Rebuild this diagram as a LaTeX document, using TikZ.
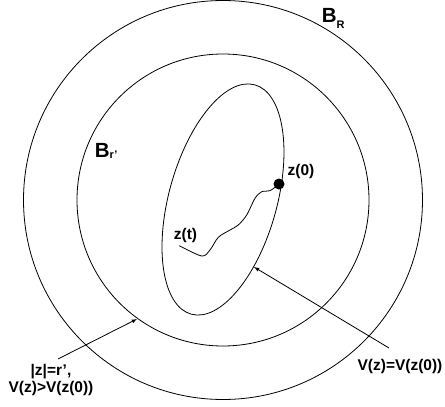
\documentclass[tikz,border=0pt]{standalone}
\usepackage{fontspec}
\setmainfont{Liberation Sans}
\usetikzlibrary{calc,positioning,arrows}

\begin{document}
\begin{tikzpicture}[x=1pt,y=-1pt,line width=0.8pt,
   every node/.style={inner sep=0pt},
   lbl/.style={font=\fontsize{15.5}{17}\selectfont\bfseries},
   ball/.style={font=\fontsize{20.5}{22}\selectfont\bfseries}]
     \useasboundingbox (0,0) rectangle (445,407);
     \coordinate (o) at (223,200);
     \coordinate (c) at (223,199.5);
     \draw (o) circle (199.5pt);
     \draw (o) circle (146pt);
     \draw[rotate around={-15.5:(c)}] (c) ellipse [x radius=54pt, y radius=119pt];
     \node[ball,anchor=base west] (bR) at (321.5,22) {B\raisebox{-6pt}{\fontsize{11}{11}\selectfont R}};
     \node[ball,anchor=base west] (br) at (94.5,157) {B\raisebox{-1.5pt}{\fontsize{11}{11}\selectfont r’}};
     \node[circle,fill=black,minimum size=11pt] (z0) at (279,184) {};
     \node[lbl] (z0lab) at (301,171.5) {z(0)};
     \node[lbl] (ztlab) at (185.5,235.5) {z(t)};
     \coordinate (zt) at (179.3,245.7);
     \draw plot[smooth] coordinates {(zt) (201.7,256) (210,250) (218.3,237.3) (230,230) (238.3,225) (246.7,215) (255,198.3) (261.7,191.7) (270,190.7) (z0)};
     \node[lbl] (rlab) at (51,371.5) {|z|=r’,};
     \node[lbl,below=2pt of rlab] (vlab1) {V(z)>V(z(0))};
     \node[lbl] (vlab2) at (400,366) {V(z)=V(z(0))};
     \coordinate (s1) at (58,359);
     \coordinate (e1) at (137,319);
     \coordinate (s2) at (389,348);
     \coordinate (e2) at (254,267);
     \draw[-latex] (s1) -- (e1);
     \draw[-latex] (s2) -- (e2);
\end{tikzpicture}
\end{document}
